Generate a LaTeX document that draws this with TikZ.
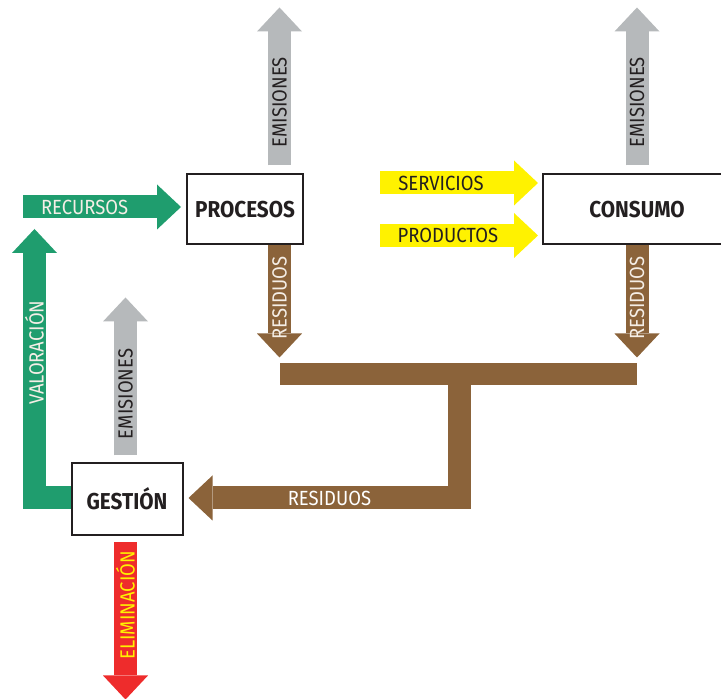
\documentclass[tikz,border=0pt]{standalone}
\usepackage{fontspec}
\setmainfont{Fira Sans}[FakeStretch=0.9]
\usetikzlibrary{arrows.meta}

\definecolor{recgreen}{RGB}{31,157,110}
\definecolor{resbrown}{RGB}{139,99,58}
\definecolor{emigray}{RGB}{182,185,187}
\definecolor{flowyellow}{RGB}{255,242,0}
\definecolor{elired}{RGB}{238,44,44}
\definecolor{darktext}{RGB}{35,31,32}
\definecolor{lighttext}{RGB}{245,238,230}

\tikzset{
  stage/.style={draw=darktext, line width=2pt, fill=white, text=darktext,
    font=\fontsize{23}{23}\selectfont\bfseries},
  flow/.style={line width=23pt, line join=miter,
    -{Triangle[width=45pt,length=24pt,line width=0pt]}},
  flowtext/.style={font=\fontsize{20.5}{20.5}\selectfont, inner sep=0pt},
  uptext/.style={flowtext, rotate=90}
}

\begin{document}
\begin{tikzpicture}[x=1pt,y=1pt]
\useasboundingbox (0,0) rectangle (721,699);

\node[stage, minimum width=116pt, minimum height=70pt] (procesos) at (245,489.5) {PROCESOS};
\node[stage, minimum width=188pt, minimum height=70pt] (consumo) at (637,489.5) {CONSUMO};
\node[stage, minimum width=111pt, minimum height=72pt] (gestion) at (127,200) {GESTIÓN};

\coordinate (bar) at (459.5,324.5);

\draw[flow, emigray] ([xshift=34.5pt,yshift=8pt]procesos.north) -- ++(0,158)
  node[uptext, text=darktext, pos=0.40] {EMISIONES};
\draw[flow, emigray] ([yshift=8pt]consumo.north) -- ++(0,158)
  node[uptext, text=darktext, pos=0.40] {EMISIONES};
\draw[flow, emigray] ([xshift=-1.5pt,yshift=6.5pt]gestion.north) -- ++(0,158)
  node[uptext, text=darktext, pos=0.39] {EMISIONES};

\draw[flow, flowyellow] ([xshift=76pt,yshift=26.5pt]procesos.east) -- ([xshift=-4pt,yshift=26.5pt]consumo.west)
  node[flowtext, text=darktext, pos=0.386] {SERVICIOS};
\draw[flow, flowyellow] ([xshift=76pt,yshift=-26pt]procesos.east) -- ([xshift=-4pt,yshift=-26pt]consumo.west)
  node[flowtext, text=darktext, pos=0.43] {PRODUCTOS};

\draw[flow, resbrown] ([xshift=34.5pt]procesos.south) -- ++(0,-112)
  node[uptext, text=lighttext, pos=0.47] {RESIDUOS};
\draw[flow, resbrown] (consumo.south) -- ++(0,-112)
  node[uptext, text=lighttext, pos=0.47] {RESIDUOS};
\draw[resbrown, line width=22pt] (280,324.5) -- (637,324.5);
\draw[flow, resbrown] (bar) -- (bar |- 0,201)
  -- node[flowtext, text=white, pos=0.48] {RESIDUOS} ([xshift=5pt,yshift=1pt]gestion.east);

\draw[flow, recgreen] ([yshift=1pt]gestion.west) -- (34.5,201)
  -- node[uptext, text=lighttext, pos=0.54] {VALORACIÓN} (34.5,470);
\draw[flow, recgreen] (23,492) -- ([xshift=-5pt,yshift=2.5pt]procesos.west)
  node[flowtext, text=lighttext, pos=0.39] {RECURSOS};

\draw[flow, elired] ([xshift=-1.5pt,yshift=-6.5pt]gestion.south) -- ++(0,-157)
  node[uptext, text=flowyellow, pos=0.40] {ELIMINACIÓN};
\end{tikzpicture}
\end{document}
